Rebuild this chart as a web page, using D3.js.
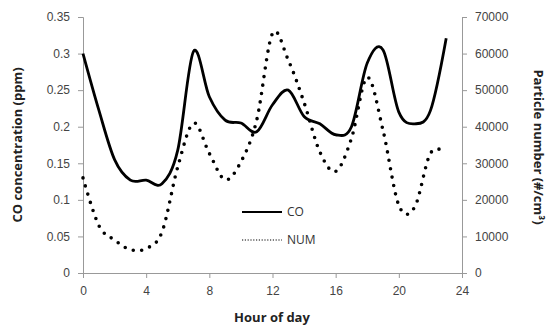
<!DOCTYPE html>
<html lang="en">
<head>
  <meta charset="UTF-8">
  <title>CO and particle number by hour</title>
  <script src="https://d3js.org/d3.v7.min.js"></script>
  <style>
    body { margin: 0; background: #fff; }
    svg { display: block; font-family: 'Open Sans', 'Liberation Sans', sans-serif; }
    .tick text { font-size: 12px; fill: #444; }
    .title { font-size: 13px; font-weight: bold; fill: #222; }
  </style>
</head>
<body>
  <svg id="chart" width="547" height="325"></svg>
  <script>
    const hours = d3.range(0, 24);
    const co = [0.300, 0.223, 0.155, 0.127, 0.127, 0.122, 0.168, 0.303, 0.241, 0.209,
                0.205, 0.193, 0.230, 0.250, 0.214, 0.204, 0.189, 0.200, 0.287, 0.305,
                0.220, 0.204, 0.222, 0.321];
    const num = [26000, 13000, 9000, 6400, 6700, 11200, 29000, 41000, 32700, 25500,
                 30400, 41800, 65500, 58200, 46600, 33100, 27800, 36800, 53500, 39000,
                 18500, 18000, 32700, 33000];
    const xTicks = [0, 4, 8, 12, 16, 20, 24];
    const coTicks = [0, 0.05, 0.1, 0.15, 0.2, 0.25, 0.3, 0.35];
    const numTicks = [0, 10000, 20000, 30000, 40000, 50000, 60000, 70000];

    const svg = d3.select("#chart");
    const plotL = 83, plotR = 462, plotT = 17, plotB = 273;

    const x = d3.scaleLinear().domain([0, 24]).range([plotL, plotR]);
    const yL = d3.scaleLinear().domain([0, 0.35]).range([plotB, plotT]);
    const yR = d3.scaleLinear().domain([0, 70000]).range([plotB, plotT]);

    svg.append("g").attr("transform", `translate(0,${plotB})`)
      .call(d3.axisBottom(x).tickValues(xTicks).tickSize(5).tickPadding(8).tickFormat(d3.format("d")));
    svg.append("g").attr("transform", `translate(${plotL},0)`)
      .call(d3.axisLeft(yL).tickValues(coTicks).tickSize(5).tickPadding(8).tickFormat(d => String(+d.toFixed(2))));
    svg.append("g").attr("transform", `translate(${plotR},0)`)
      .call(d3.axisRight(yR).tickValues(numTicks).tickSize(5).tickPadding(8).tickFormat(d3.format("d")));
    svg.selectAll(".domain").attr("stroke", "#999");
    svg.selectAll(".tick line").attr("stroke", "#999");

    const curve = d3.curveCardinal.tension(0);
    const lineCo = d3.line().x((d, i) => x(hours[i])).y(d => yL(d)).curve(curve);
    const lineNum = d3.line().x((d, i) => x(hours[i])).y(d => yR(d)).curve(curve);

    svg.append("path").datum(num).attr("d", lineNum)
      .attr("fill", "none").attr("stroke", "#000").attr("stroke-width", 3.6)
      .attr("stroke-linecap", "round").attr("stroke-dasharray", "0,8.5");
    svg.append("path").datum(co).attr("d", lineCo)
      .attr("fill", "none").attr("stroke", "#000").attr("stroke-width", 2.8);

    // legend
    const lg = svg.append("g");
    lg.append("line").attr("x1", 242).attr("x2", 282).attr("y1", 212).attr("y2", 212)
      .attr("stroke", "#000").attr("stroke-width", 2);
    lg.append("text").attr("x", 287).attr("y", 216).attr("font-size", 12).attr("fill", "#333").text("CO");
    lg.append("line").attr("x1", 242).attr("x2", 282).attr("y1", 240).attr("y2", 240)
      .attr("stroke", "#000").attr("stroke-width", 1.2).attr("stroke-dasharray", "1.2,1.6");
    lg.append("text").attr("x", 287).attr("y", 244).attr("font-size", 12).attr("fill", "#333").text("NUM");

    // axis titles
    svg.append("text").attr("class", "title")
      .attr("transform", `translate(22,${(plotT + plotB) / 2}) rotate(-90)`)
      .attr("text-anchor", "middle").text("CO concentration (ppm)");
    svg.append("text").attr("class", "title")
      .attr("transform", `translate(534,${(plotT + plotB) / 2 + 2}) rotate(90)`)
      .attr("text-anchor", "middle").text("Particle number (#/cm³)");
    svg.append("text").attr("class", "title").attr("font-size", 14)
      .attr("x", 272).attr("y", 322).attr("text-anchor", "middle").text("Hour of day");
  </script>
</body>
</html>
